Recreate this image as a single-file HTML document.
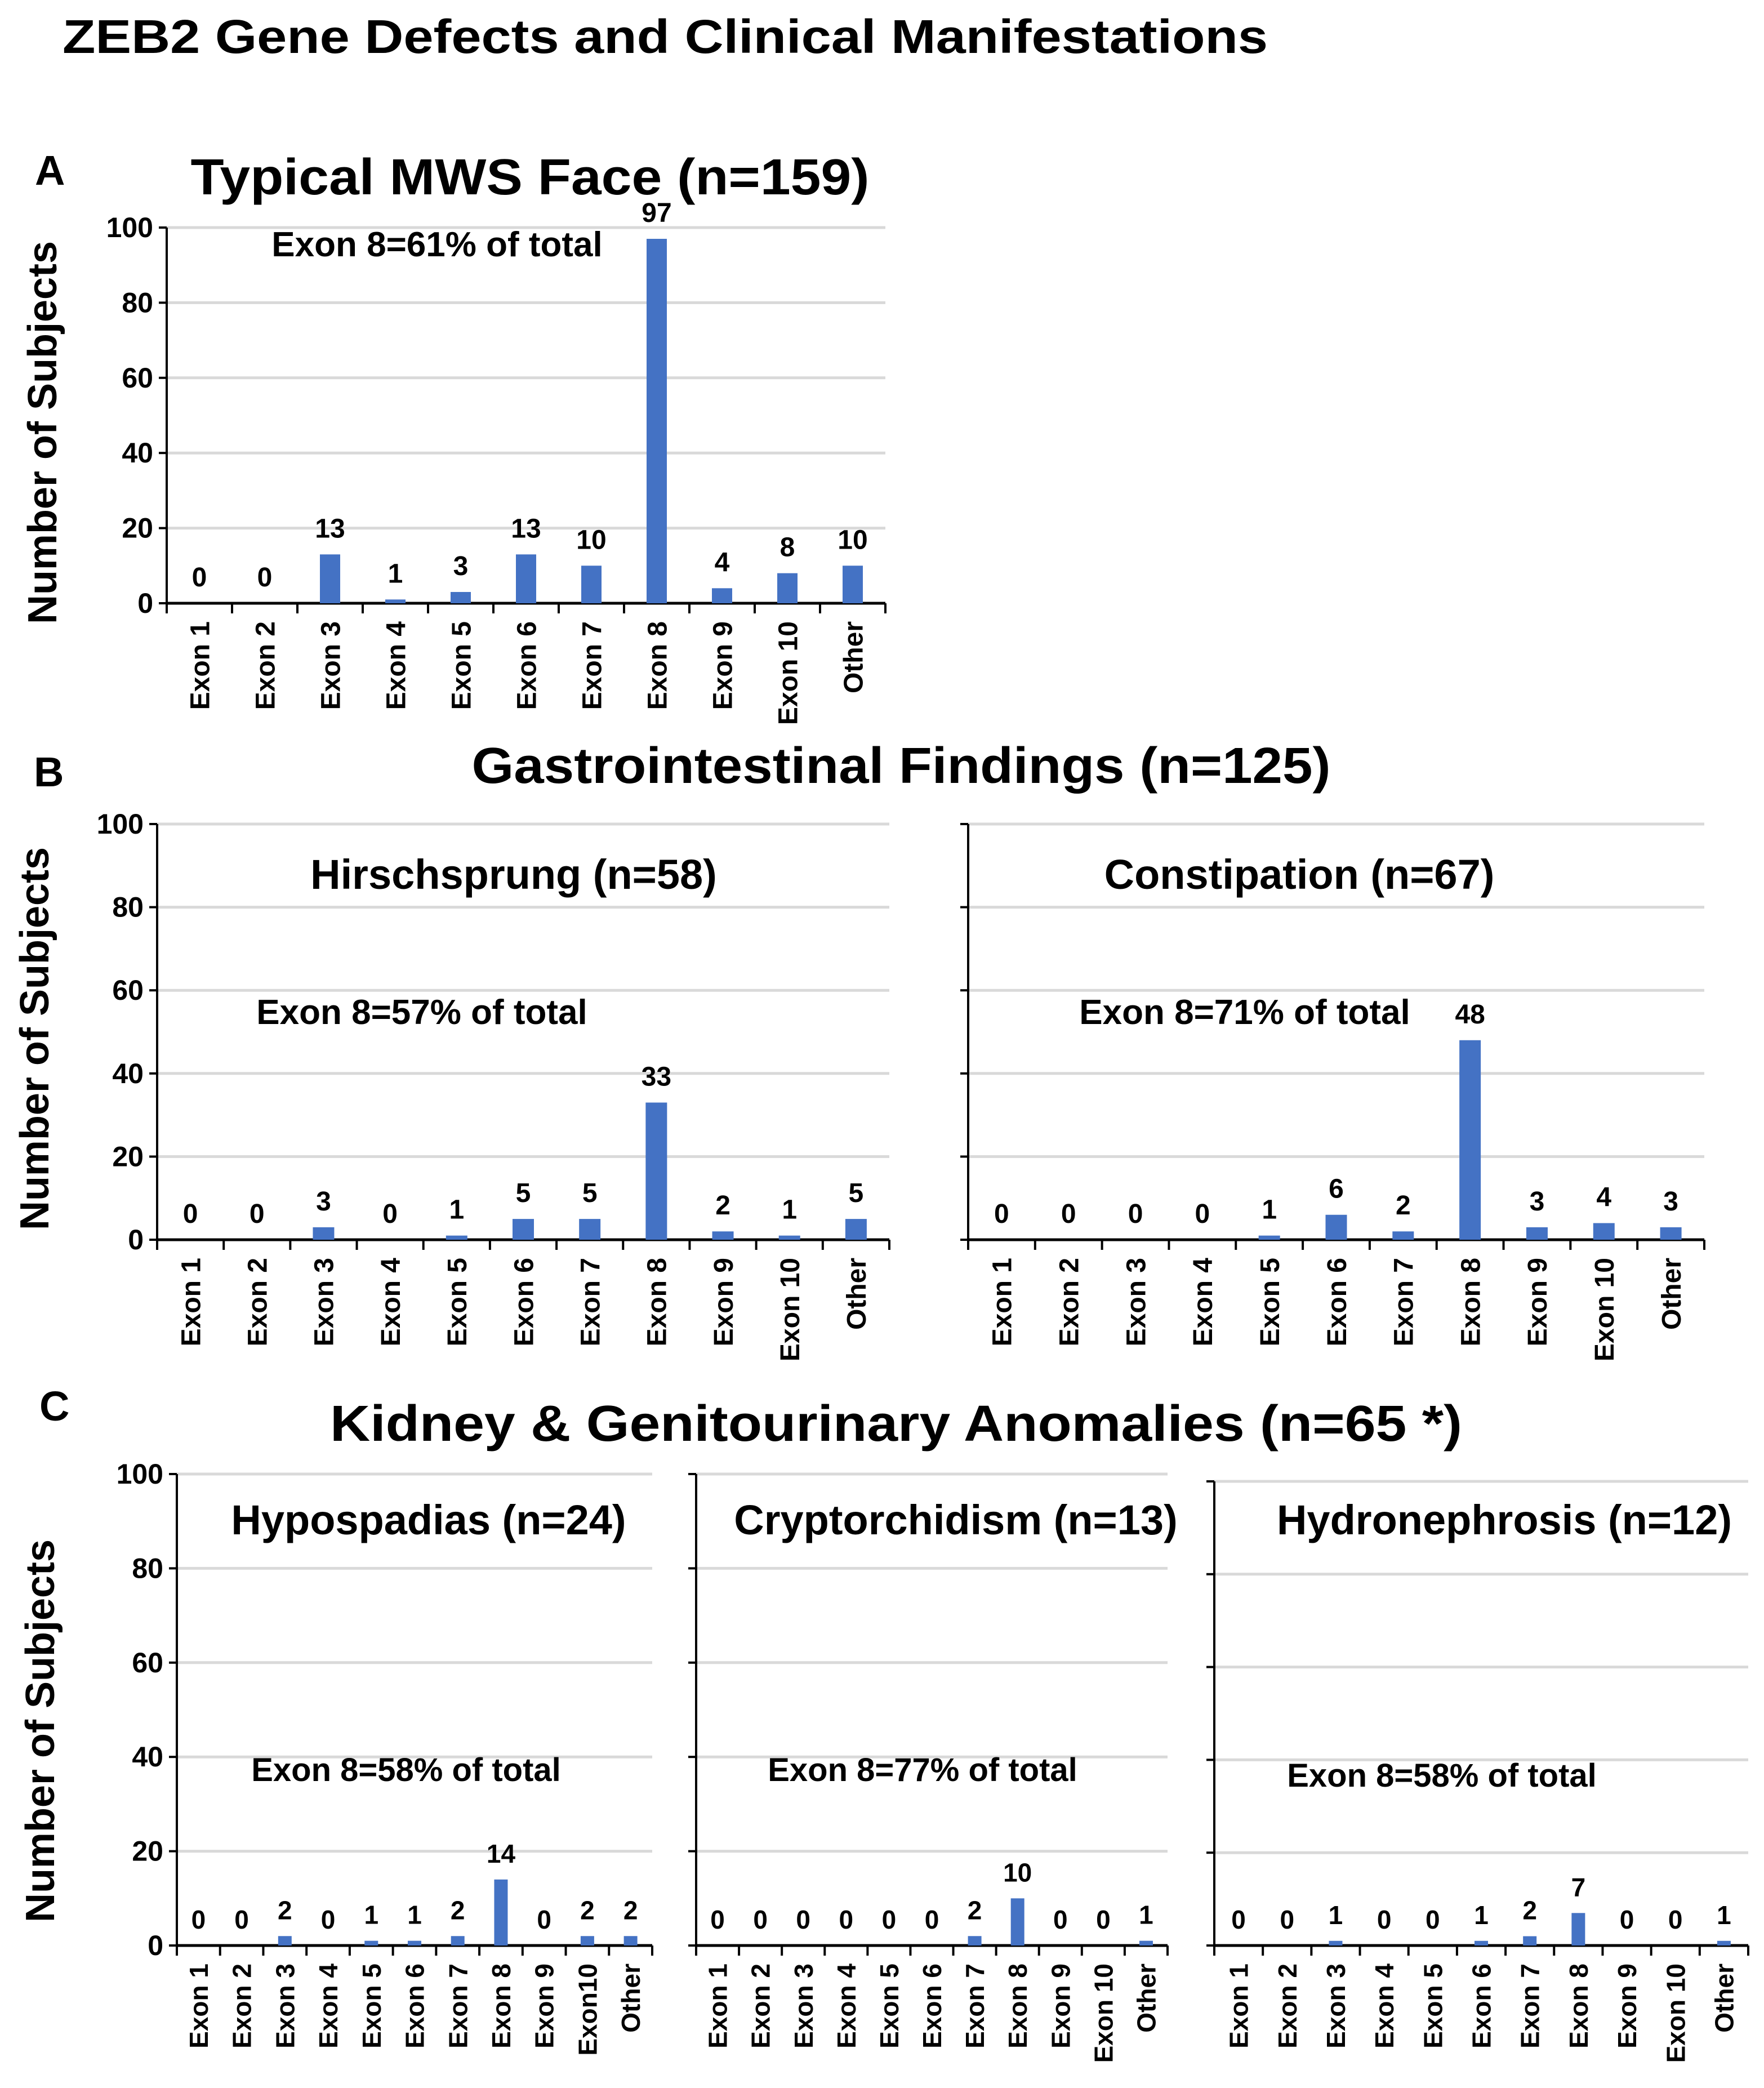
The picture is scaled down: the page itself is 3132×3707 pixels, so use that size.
<!DOCTYPE html>
<html><head><meta charset="utf-8">
<style>
html,body{margin:0;padding:0;background:#fff;}
svg{display:block;font-family:"Liberation Sans",sans-serif;font-weight:bold;}
</style></head>
<body>
<svg id="fig" width="3132" height="3707" viewBox="0 0 3132 3707" xmlns="http://www.w3.org/2000/svg">
<text x="111" y="94" font-size="84" textLength="2140" lengthAdjust="spacingAndGlyphs">ZEB2 Gene Defects and Clinical Manifestations</text>
<text x="62" y="328" font-size="74">A</text>
<text x="941" y="345" font-size="90" text-anchor="middle" textLength="1205" lengthAdjust="spacingAndGlyphs">Typical MWS Face (n=159)</text>
<text x="60" y="1396" font-size="74">B</text>
<text x="1600" y="1390" font-size="90" text-anchor="middle" textLength="1525" lengthAdjust="spacingAndGlyphs">Gastrointestinal Findings (n=125)</text>
<text x="70" y="2522" font-size="74">C</text>
<text x="1591" y="2558" font-size="90" text-anchor="middle" textLength="2010" lengthAdjust="spacingAndGlyphs">Kidney &amp; Genitourinary Anomalies (n=65 *)</text>
<text transform="translate(100,768) rotate(-90)" font-size="72" text-anchor="middle">Number of Subjects</text>
<text transform="translate(86,1844) rotate(-90)" font-size="72" text-anchor="middle">Number of Subjects</text>
<text transform="translate(96,3073) rotate(-90)" font-size="72" text-anchor="middle">Number of Subjects</text>
<g id="charts"></g>
</svg>
<script>
const catsStd = ["Exon 1","Exon 2","Exon 3","Exon 4","Exon 5","Exon 6","Exon 7","Exon 8","Exon 9","Exon 10","Other"];
const catsHypo = ["Exon 1","Exon 2","Exon 3","Exon 4","Exon 5","Exon 6","Exon 7","Exon 8","Exon 9","Exon10","Other"];
const yTicks = [0,20,40,60,80,100];
const valsFace = [0,0,13,1,3,13,10,97,4,8,10];
const valsHirsch = [0,0,3,0,1,5,5,33,2,1,5];
const valsConst = [0,0,0,0,1,6,2,48,3,4,3];
const valsHypo = [0,0,2,0,1,1,2,14,0,2,2];
const valsCrypt = [0,0,0,0,0,0,2,10,0,0,1];
const valsHydro = [0,0,1,0,0,1,2,7,0,0,1];

const NS="http://www.w3.org/2000/svg";
const root=document.getElementById('charts');
function mk(tag,attrs,parent){const e=document.createElementNS(NS,tag);for(const k in attrs)e.setAttribute(k,attrs[k]);(parent||root).appendChild(e);return e;}

function drawChart(id,cats,vals,x0,x1,yTop,yBot,opt){
  const g=mk('g',{});
  
  
  const yS=v=>yBot-(v/100)*(yBot-yTop);
  const bw=(x1-x0)/cats.length;
  const xS=i=>x0+bw*(i+0.5);
  yTicks.forEach(t=>{
    if(t>0){const gl=mk('line',{x1:x0,x2:x1,y1:yS(t),y2:yS(t),stroke:'#d9d9d9','stroke-width':5},g);
      
      }
    const tk=mk('line',{x1:x0-14,x2:x0,y1:yS(t),y2:yS(t),stroke:'#000','stroke-width':4},g);
    
    
    if(opt.yLabels){const tl=mk('text',{x:x0-24,y:yS(t)+17,'font-size':opt.tickFs,'text-anchor':'end'},g);tl.textContent=t;
      
      }
  });
  const ya=mk('line',{x1:x0,x2:x0,y1:yTop,y2:yBot,stroke:'#000','stroke-width':4},g);
  
  
  const xa=mk('line',{x1:x0,x2:x1,y1:yBot,y2:yBot,stroke:'#000','stroke-width':5},g);
  
  
  for(let i=0;i<=cats.length;i++){
    const t=mk('line',{x1:x0+bw*i,x2:x0+bw*i,y1:yBot,y2:yBot+18,stroke:'#000','stroke-width':4},g);
    
    
  }
  cats.forEach((c,i)=>{
    const v=vals[i];
    const w=opt.barW;
    const b=mk('rect',{x:xS(i)-w/2,y:yS(v),width:w,height:yBot-yS(v),fill:'#4472C4'},g);
    
    
    const lb=mk('text',{x:xS(i),y:yS(v)-opt.labGap,'font-size':opt.valFs,'text-anchor':'middle'},g);
    lb.textContent=v;
    
    
    const xl=mk('text',{transform:`translate(${xS(i)+opt.catFs*0.36},${yBot+32}) rotate(-90)`,'font-size':opt.catFs,'text-anchor':'end'},g);
    xl.textContent=c;
    
    
  });
  if(opt.sub){const s=mk('text',{x:opt.sub[1],y:opt.sub[2],'font-size':74,'text-anchor':'middle'},g);s.textContent=opt.sub[0];
    
    }
  if(opt.note){const n=mk('text',{x:opt.note[1],y:opt.note[2],'font-size':opt.noteFs,'text-anchor':'middle'},g);n.textContent=opt.note[0];
    
    }
}
drawChart('face',catsStd,valsFace,296,1572,404,1071,{yLabels:true,tickFs:50,valFs:48,catFs:48,barW:36,labGap:30,note:['Exon 8=61% of total',776,455],noteFs:62});
drawChart('hirschsprung',catsStd,valsHirsch,279,1579,1463,2201,{yLabels:true,tickFs:50,valFs:48,catFs:48,barW:38,labGap:30,sub:['Hirschsprung (n=58)',912,1578],note:['Exon 8=57% of total',749,1818],noteFs:62});
drawChart('constipation',catsStd,valsConst,1719,3026,1463,2201,{yLabels:false,tickFs:50,valFs:48,catFs:48,barW:38,labGap:30,sub:['Constipation (n=67)',2307,1578],note:['Exon 8=71% of total',2210,1818],noteFs:62});
drawChart('hypospadias',catsHypo,valsHypo,314,1158,2617,3454,{yLabels:true,tickFs:50,valFs:46,catFs:46,barW:24,labGap:30,sub:['Hypospadias (n=24)',761,2724],note:['Exon 8=58% of total',721,3162],noteFs:58});
drawChart('cryptorchidism',catsStd,valsCrypt,1236,2073,2617,3454,{yLabels:false,tickFs:50,valFs:46,catFs:46,barW:24,labGap:30,sub:['Cryptorchidism (n=13)',1697,2724],note:['Exon 8=77% of total',1638,3162],noteFs:58});
drawChart('hydronephrosis',catsStd,valsHydro,2156,3104,2630,3454,{yLabels:false,tickFs:50,valFs:46,catFs:46,barW:24,labGap:30,sub:['Hydronephrosis (n=12)',2671,2724],note:['Exon 8=58% of total',2560,3172],noteFs:58});
</script>
</body></html>
